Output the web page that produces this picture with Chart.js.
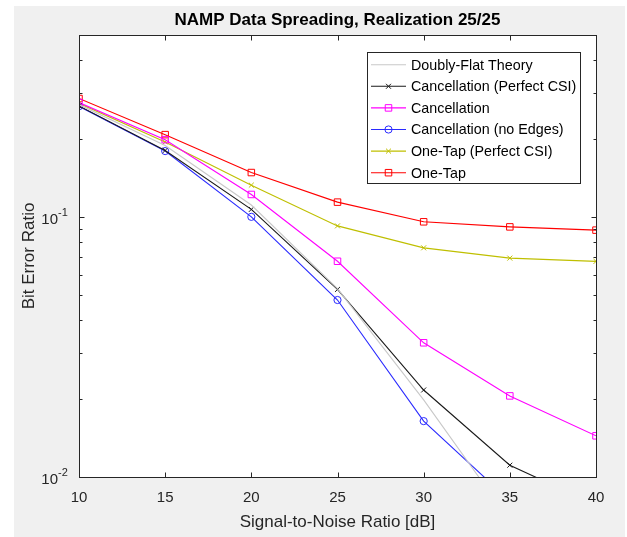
<!DOCTYPE html>
<html>
<head>
<meta charset="utf-8">
<script src="https://cdn.jsdelivr.net/npm/chart.js@4.4.0/dist/chart.umd.min.js"></script>
<style>
  html, body { margin: 0; padding: 0; background: #ffffff; }
  #wrap { width: 627px; height: 537px; }
</style>
</head>
<body>
<div id="wrap"><canvas id="berChart" width="627" height="537"></canvas></div>
<script>
// SNR points [dB]
const snr = [10, 15, 20, 25, 30, 35, 40];

// bit error ratios
const theory        = [0.270, 0.188, 0.111, 0.0530, 0.0198, 0.0068, 0.0018];
const cancelPerfect = [0.267, 0.180, 0.1068, 0.0526, 0.0216, 0.0111, 0.0078];
const cancel        = [0.275, 0.198, 0.1219, 0.0675, 0.0328, 0.0205, 0.0144];
const cancelNoEdges = [0.266, 0.179, 0.100, 0.0479, 0.0164, 0.0081, 0.0050];
const oneTapPerfect = [0.273, 0.194, 0.1324, 0.0923, 0.0760, 0.0694, 0.0674];
const oneTap        = [0.285, 0.207, 0.148, 0.1139, 0.0957, 0.0915, 0.0889];

const seriesNames = [
    'Doubly-Flat Theory',
    'Cancellation (Perfect CSI)',
    'Cancellation',
    'Cancellation (no Edges)',
    'One-Tap (Perfect CSI)',
    'One-Tap'
];

const xTicks = [10, 15, 20, 25, 30, 35, 40];
const yMajorTicks = [0.01, 0.1];
const yMinorTicks = [0.02, 0.03, 0.04, 0.05, 0.06, 0.07, 0.08, 0.09, 0.2, 0.3, 0.4, 0.5];

const FONT = '"Liberation Sans", Arial, Helvetica, sans-serif';
const AXIS_COLOR = '#262626';

function toPoints(values) {
    return snr.map((s, i) => ({ x: s, y: values[i] }));
}

function makeSet(label, values, color, style, radius) {
    return {
        label: label,
        data: toPoints(values),
        borderColor: color,
        backgroundColor: color,
        borderWidth: 1.1,
        pointStyle: style || false,
        pointRadius: style ? radius : 0,
        pointBorderColor: color,
        pointBackgroundColor: 'rgba(0,0,0,0)',
        pointBorderWidth: 1,
        tension: 0,
        fill: false
    };
}

const datasets = [
    makeSet(seriesNames[0], theory, '#c8c8c8', null, 0),
    makeSet(seriesNames[1], cancelPerfect, '#1a1a1a', 'crossRot', 3.5),
    makeSet(seriesNames[2], cancel, '#ff00ff', 'rect', 4.6),
    makeSet(seriesNames[3], cancelNoEdges, '#2a2aff', 'circle', 3.6),
    makeSet(seriesNames[4], oneTapPerfect, '#bfbf00', 'crossRot', 3.5),
    makeSet(seriesNames[5], oneTap, '#ff0000', 'rect', 4.6)
];

// draws the figure background, axes box, ticks, labels and legend the way MATLAB does
const matlabFrame = {
    id: 'matlabFrame',
    beforeDraw(chart) {
        const ctx = chart.ctx;
        const a = chart.chartArea;
        ctx.save();
        ctx.fillStyle = '#ffffff';
        ctx.fillRect(0, 0, chart.width, chart.height);
        ctx.fillStyle = '#f0f0f0';
        ctx.fillRect(14, 6, 611, 531);
        ctx.fillStyle = '#ffffff';
        ctx.fillRect(a.left, a.top, a.right - a.left, a.bottom - a.top);
        ctx.restore();
    },
    afterDatasetsDraw(chart) {
        const ctx = chart.ctx;
        const a = chart.chartArea;
        const xs = chart.scales.x;
        const ys = chart.scales.y;
        const L = Math.round(a.left) + 0.5, R = Math.round(a.right) + 0.5;
        const T = Math.round(a.top) + 0.5, B = Math.round(a.bottom) + 0.5;

        ctx.save();
        ctx.strokeStyle = AXIS_COLOR;
        ctx.lineWidth = 1;
        ctx.strokeRect(L, T, R - L, B - T);

        // x ticks (inward, bottom and top)
        ctx.beginPath();
        xTicks.forEach(v => {
            const px = Math.round(xs.getPixelForValue(v)) + 0.5;
            ctx.moveTo(px, B); ctx.lineTo(px, B - 5);
            ctx.moveTo(px, T); ctx.lineTo(px, T + 5);
        });
        // y ticks (inward, left and right)
        yMajorTicks.forEach(v => {
            const py = Math.round(ys.getPixelForValue(v)) + 0.5;
            ctx.moveTo(L, py); ctx.lineTo(L + 5, py);
            ctx.moveTo(R, py); ctx.lineTo(R - 5, py);
        });
        yMinorTicks.forEach(v => {
            const py = Math.round(ys.getPixelForValue(v)) + 0.5;
            ctx.moveTo(L, py); ctx.lineTo(L + 3, py);
            ctx.moveTo(R, py); ctx.lineTo(R - 3, py);
        });
        ctx.stroke();

        // tick labels
        ctx.fillStyle = AXIS_COLOR;
        ctx.font = '15px ' + FONT;
        ctx.textAlign = 'center';
        ctx.textBaseline = 'middle';
        xTicks.forEach(v => {
            ctx.fillText(String(v), xs.getPixelForValue(v), 498);
        });
        yMajorTicks.forEach(v => {
            const py = ys.getPixelForValue(v);
            const exp = String(Math.round(Math.log10(v)));
            ctx.font = '15px ' + FONT;
            ctx.textAlign = 'right';
            ctx.fillText('10', 58, py + 3);
            ctx.font = '11px ' + FONT;
            ctx.textAlign = 'left';
            ctx.fillText(exp, 58, py - 4);
        });

        // axis titles
        ctx.font = '17px ' + FONT;
        ctx.textAlign = 'center';
        ctx.fillText('Signal-to-Noise Ratio [dB]', (a.left + a.right) / 2, 522);
        ctx.save();
        ctx.translate(29, (a.top + a.bottom) / 2);
        ctx.rotate(-Math.PI / 2);
        ctx.fillText('Bit Error Ratio', 0, 0);
        ctx.restore();

        // title
        ctx.fillStyle = '#000000';
        ctx.font = 'bold 17px ' + FONT;
        ctx.fillText('NAMP Data Spreading, Realization 25/25', (a.left + a.right) / 2, 20);

        // legend box
        const bx = 367.5, by = 52.5, bw = 213, bh = 131;
        ctx.fillStyle = '#ffffff';
        ctx.fillRect(bx, by, bw, bh);
        ctx.strokeStyle = AXIS_COLOR;
        ctx.strokeRect(bx, by, bw, bh);
        ctx.font = '14.3px ' + FONT;
        ctx.textAlign = 'left';
        chart.data.datasets.forEach((ds, i) => {
            const cy = 64.7 + i * 21.6;
            ctx.strokeStyle = ds.borderColor;
            ctx.lineWidth = 1.1;
            ctx.beginPath();
            ctx.moveTo(371, cy);
            ctx.lineTo(406, cy);
            ctx.stroke();
            if (ds.pointStyle) {
                ctx.fillStyle = 'rgba(0,0,0,0)';
                ctx.lineWidth = 1;
                Chart.helpers.drawPoint(ctx, {
                    pointStyle: ds.pointStyle,
                    radius: ds.pointRadius,
                    rotation: 0,
                    borderWidth: 1
                }, 388.5, cy);
            }
            ctx.fillStyle = '#000000';
            ctx.fillText(ds.label, 411, cy + 1);
        });
        ctx.restore();
    }
};

const ctx = document.getElementById('berChart').getContext('2d');
new Chart(ctx, {
    type: 'line',
    data: { datasets: datasets },
    options: {
        responsive: false,
        animation: false,
        layout: { padding: { left: 79, top: 35, right: 31, bottom: 60 } },
        scales: {
            x: { type: 'linear', min: 10, max: 40, display: false },
            y: { type: 'logarithmic', min: 0.01, max: 0.5, display: false }
        },
        plugins: {
            legend: { display: false },
            tooltip: { enabled: false }
        }
    },
    plugins: [matlabFrame]
});
</script>
</body>
</html>
